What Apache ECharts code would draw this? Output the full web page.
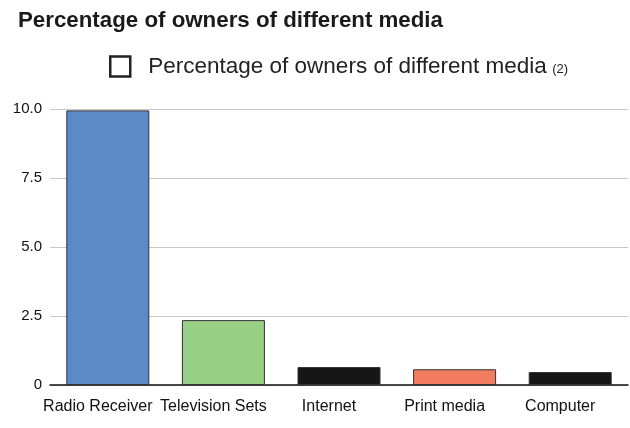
<!DOCTYPE html>
<html>
<head>
<meta charset="utf-8">
<script src="https://cdn.jsdelivr.net/npm/echarts@6/dist/echarts.min.js"></script>
<style>
  html, body { margin: 0; padding: 0; background: #fff; }
  #chart { width: 630px; height: 428px; }
</style>
</head>
<body>
<div id="chart"></div>
<script>
var categories = ["Radio Receiver", "Television Sets", "Internet", "Print media", "Computer"];
var values = [9.95, 2.35, 0.65, 0.57, 0.47];
var barColors = ["#5b8ac6", "#98d185", "#161616", "#f27c5f", "#161616"];
var yTicks = ["0", "2.5", "5.0", "7.5", "10.0"];

var chart = echarts.init(document.getElementById("chart"));

var option = {
  animation: false,
  textStyle: { fontFamily: "Liberation Sans, Arial, sans-serif" },
  title: {
    text: "Percentage of owners of different media",
    left: 13,
    top: 5,
    textStyle: { fontSize: 22.3, fontWeight: "bold", color: "#1a1a1a" }
  },
  legend: {
    left: 104,
    top: 50,
    itemWidth: 20,
    itemHeight: 20,
    icon: "rect",
    data: [{
      name: "Percentage of owners of different media",
      itemStyle: { color: "#fff", borderColor: "#222", borderWidth: 2.5 }
    }],
    formatter: function (name) { return "{a|" + name + "} {b|(2)}"; },
    textStyle: {
      rich: {
        a: { fontSize: 22.5, color: "#222", padding: [0, 0, 0, 13] },
        b: { fontSize: 13, color: "#222", padding: [6, 0, 0, 2] }
      }
    }
  },
  grid: { left: 50, right: 2, top: 109, bottom: 43, containLabel: false },
  xAxis: {
    type: "category",
    data: categories,
    axisTick: { show: false },
    axisLine: { lineStyle: { color: "#111", width: 1.5 } },
    axisLabel: { color: "#111", fontSize: 16, margin: 14, interval: 0, padding: [0, 20, 0, 0] }
  },
  yAxis: {
    type: "value",
    min: 0,
    max: 10,
    interval: 2.5,
    axisLine: { show: false },
    axisTick: { show: false },
    splitLine: { lineStyle: { color: "#c8c8c8", width: 1 } },
    axisLabel: {
      color: "#111",
      fontSize: 15,
      margin: 8,
      formatter: function (v) { return yTicks[Math.round(v / 2.5)]; }
    }
  },
  series: [{
    name: "Percentage of owners of different media",
    type: "bar",
    barWidth: 83,
    data: values.map(function (v, i) {
      return { value: v, itemStyle: { color: barColors[i] } };
    }),
    itemStyle: { borderColor: "#333", borderWidth: 1 }
  }]
};

chart.setOption(option);
</script>
</body>
</html>
